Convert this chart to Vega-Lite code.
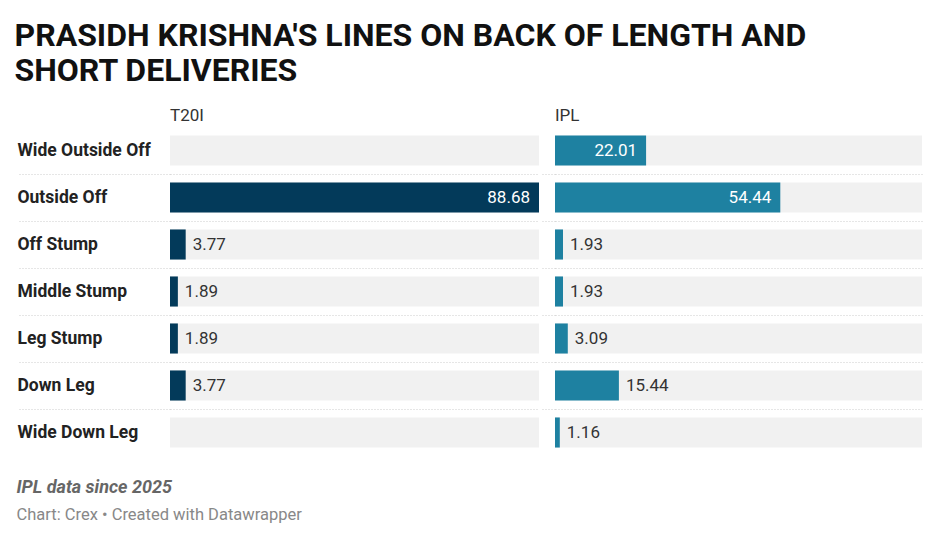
{
  "$schema": "https://vega.github.io/schema/vega-lite/v6.json",
  "padding": {"left": 14, "top": 20, "right": 10, "bottom": 10},
  "autosize": {"type": "pad"},
  "background": "white",
  "config": {"font": "Roboto", "view": {"stroke": null}},
  "title": {
    "text": ["PRASIDH KRISHNA'S LINES ON BACK OF LENGTH AND", "SHORT DELIVERIES"],
    "anchor": "start", "frame": "bounds", "font": "Roboto", "fontSize": 32, "fontWeight": 700,
    "color": "#111111", "lineHeight": 35, "offset": 19, "dx": -2
  },
  "data": {"values": [
    {"league": "T20I", "row": "Wide Outside Off", "value": null},
    {"league": "T20I", "row": "Outside Off", "value": 88.68},
    {"league": "T20I", "row": "Off Stump", "value": 3.77},
    {"league": "T20I", "row": "Middle Stump", "value": 1.89},
    {"league": "T20I", "row": "Leg Stump", "value": 1.89},
    {"league": "T20I", "row": "Down Leg", "value": 3.77},
    {"league": "T20I", "row": "Wide Down Leg", "value": null},
    {"league": "IPL", "row": "Wide Outside Off", "value": 22.01},
    {"league": "IPL", "row": "Outside Off", "value": 54.44},
    {"league": "IPL", "row": "Off Stump", "value": 1.93},
    {"league": "IPL", "row": "Middle Stump", "value": 1.93},
    {"league": "IPL", "row": "Leg Stump", "value": 3.09},
    {"league": "IPL", "row": "Down Leg", "value": 15.44},
    {"league": "IPL", "row": "Wide Down Leg", "value": 1.16}
  ]},
  "vconcat": [{
    "title": {
      "text": "IPL data since 2025", "subtitle": "Chart: Crex • Created with Datawrapper",
      "orient": "bottom", "anchor": "start", "frame": "bounds",
      "font": "Roboto", "fontSize": 18, "fontStyle": "italic", "fontWeight": 700, "color": "#666666",
      "subtitleFont": "Roboto", "subtitleFontSize": 16.5, "subtitleColor": "#888888", "subtitleFontWeight": 400,
      "subtitlePadding": 10, "offset": 23
    },
    "spacing": 0,
    "hconcat": [
      {
        "width": 369, "height": 329,
        "title": {"text": "T20I", "anchor": "start", "frame": "group", "fontSize": 17, "fontWeight": 400, "color": "#333333", "offset": 2},
        "transform": [{"filter": "datum.league === 'T20I'"}],
        "encoding": {
          "y": {
            "field": "row", "type": "nominal",
            "sort": ["Wide Outside Off", "Outside Off", "Off Stump", "Middle Stump", "Leg Stump", "Down Leg", "Wide Down Leg"],
            "scale": {"paddingInner": 0, "paddingOuter": 0},
            "axis": {
              "title": null, "domain": false, "ticks": true, "tickSize": 153, "tickColor": "#cccccc", "tickDash": [1, 2], "tickWidth": 1,
              "tickOpacity": {"condition": {"test": "datum.value === 'Wide Down Leg'", "value": 0}, "value": 1},
              "grid": true, "gridColor": "#cccccc", "gridDash": [1, 2], "gridWidth": 1,
              "gridOpacity": {"condition": {"test": "datum.value === 'Wide Down Leg'", "value": 0}, "value": 1},
              "bandPosition": 1,
              "labelAlign": "left", "labelPadding": 0, "labelFontSize": 17.5, "labelFontWeight": 700, "labelColor": "#222222",
              "labelFont": "Roboto", "labelLimit": 152, "minExtent": 153, "maxExtent": 153
            }
          }
        },
        "layer": [
          {
            "mark": {"type": "bar", "color": "#f1f1f1", "height": {"band": 0.64}},
            "encoding": {
              "x": {"datum": 0, "type": "quantitative", "scale": {"domain": [0, 88.68], "nice": false}, "axis": null},
              "x2": {"datum": 88.68}
            }
          },
          {
            "mark": {"type": "bar", "color": "#033a5a", "height": {"band": 0.64}},
            "encoding": {
              "x": {"field": "value", "type": "quantitative", "scale": {"domain": [0, 88.68], "nice": false}, "axis": null}
            }
          },
          {
            "transform": [{"filter": "datum.value != null && datum.value >= 20"}],
            "mark": {"type": "text", "align": "right", "baseline": "middle", "dx": -9, "color": "white", "fontSize": 17, "font": "Roboto"},
            "encoding": {
              "x": {"field": "value", "type": "quantitative"},
              "text": {"field": "value", "type": "quantitative", "format": ".2f"}
            }
          },
          {
            "transform": [{"filter": "datum.value != null && datum.value < 20"}],
            "mark": {"type": "text", "align": "left", "baseline": "middle", "dx": 7, "color": "#333333", "fontSize": 17, "font": "Roboto"},
            "encoding": {
              "x": {"field": "value", "type": "quantitative"},
              "text": {"field": "value", "type": "quantitative", "format": ".2f"}
            }
          }
        ]
      },
      {
        "width": 367, "height": 329,
        "title": {"text": "IPL", "anchor": "start", "frame": "group", "fontSize": 17, "fontWeight": 400, "color": "#333333", "offset": 2},
        "transform": [{"filter": "datum.league === 'IPL'"}],
        "encoding": {
          "y": {
            "field": "row", "type": "nominal",
            "sort": ["Wide Outside Off", "Outside Off", "Off Stump", "Middle Stump", "Leg Stump", "Down Leg", "Wide Down Leg"],
            "scale": {"paddingInner": 0, "paddingOuter": 0},
            "axis": {
              "title": null, "domain": false, "labels": false, "ticks": true, "tickSize": 15, "tickColor": "#cccccc", "tickDash": [1, 2], "tickWidth": 1,
              "tickOpacity": {"condition": {"test": "datum.value === 'Wide Down Leg'", "value": 0}, "value": 1},
              "grid": true, "gridColor": "#cccccc", "gridDash": [1, 2], "gridWidth": 1,
              "gridOpacity": {"condition": {"test": "datum.value === 'Wide Down Leg'", "value": 0}, "value": 1},
              "bandPosition": 1, "minExtent": 15, "maxExtent": 15
            }
          }
        },
        "layer": [
          {
            "mark": {"type": "bar", "color": "#f1f1f1", "height": {"band": 0.64}},
            "encoding": {
              "x": {"datum": 0, "type": "quantitative", "scale": {"domain": [0, 88.68], "nice": false}, "axis": null},
              "x2": {"datum": 88.68}
            }
          },
          {
            "mark": {"type": "bar", "color": "#1e81a1", "height": {"band": 0.64}},
            "encoding": {
              "x": {"field": "value", "type": "quantitative", "scale": {"domain": [0, 88.68], "nice": false}, "axis": null}
            }
          },
          {
            "transform": [{"filter": "datum.value != null && datum.value >= 20"}],
            "mark": {"type": "text", "align": "right", "baseline": "middle", "dx": -9, "color": "white", "fontSize": 17, "font": "Roboto"},
            "encoding": {
              "x": {"field": "value", "type": "quantitative"},
              "text": {"field": "value", "type": "quantitative", "format": ".2f"}
            }
          },
          {
            "transform": [{"filter": "datum.value != null && datum.value < 20"}],
            "mark": {"type": "text", "align": "left", "baseline": "middle", "dx": 7, "color": "#333333", "fontSize": 17, "font": "Roboto"},
            "encoding": {
              "x": {"field": "value", "type": "quantitative"},
              "text": {"field": "value", "type": "quantitative", "format": ".2f"}
            }
          }
        ]
      }
    ]
  }]
}
